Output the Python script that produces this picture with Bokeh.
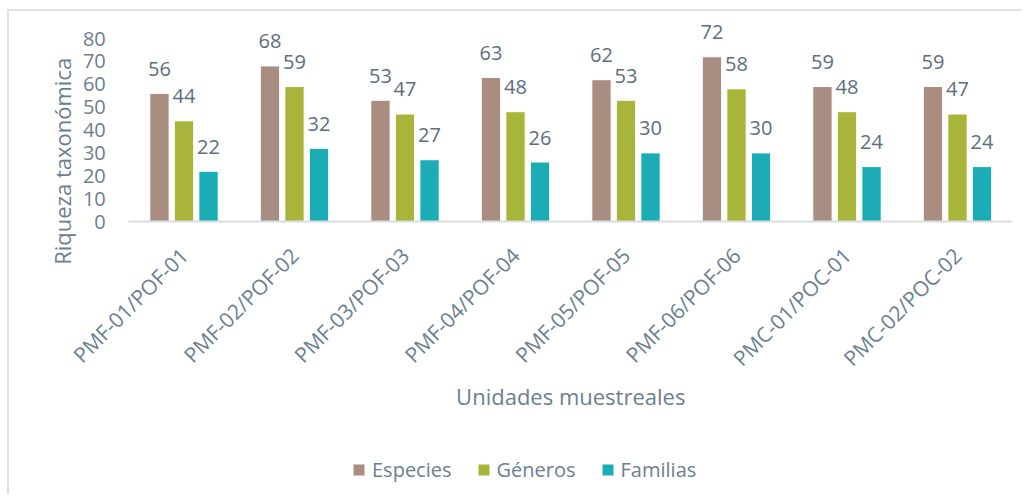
import math
from bokeh.plotting import figure
from bokeh.models import ColumnDataSource, Range1d, FixedTicker, Legend, LegendItem, Label
from bokeh.transform import dodge
from bokeh.core.properties import value
from bokeh.embed import file_html
from bokeh.resources import INLINE

categories = ["PMF-01/POF-01", "PMF-02/POF-02", "PMF-03/POF-03", "PMF-04/POF-04",
              "PMF-05/POF-05", "PMF-06/POF-06", "PMC-01/POC-01", "PMC-02/POC-02"]
especies = [56, 68, 53, 63, 62, 72, 59, 59]
generos = [44, 59, 47, 48, 53, 58, 48, 47]
familias = [22, 32, 27, 26, 30, 30, 24, 24]
series_names = ["Especies", "Géneros", "Familias"]
y_ticks = [0, 10, 20, 30, 40, 50, 60, 70, 80]

colors = ["#A98D81", "#A8B53A", "#1CACB5"]
FONT = "Open Sans"
TXT = "#5B6E7F"
AX = "#6A8091"

# layout (canvas pixels); the frame covers the whole canvas
W, H = 1015, 485
CAT_LEFT = 119.25       # canvas x where the first category starts
CAT_W = 110.5           # px per category
PX_PER_UNIT = 2.2875    # px per y unit
ZERO_Y = 210            # canvas y of value 0
x_start = -CAT_LEFT / CAT_W
x_end = (W - CAT_LEFT) / CAT_W
y_top = ZERO_Y / PX_PER_UNIT
y_bot = -(H - ZERO_Y) / PX_PER_UNIT

n = len(categories)
xpos = [i + 0.5 for i in range(n)]
src = ColumnDataSource(dict(x=xpos, cat=categories, esp=especies, gen=generos, fam=familias,
                            esp_l=[str(v) for v in especies],
                            gen_l=[str(v) for v in generos],
                            fam_l=[str(v) for v in familias]))

p = figure(x_range=Range1d(x_start, x_end), y_range=Range1d(y_bot, y_top),
           width=W, height=H, output_backend="svg", toolbar_location=None,
           min_border_left=0, min_border_right=0, min_border_top=0, min_border_bottom=0)
p.styles = {"border-left": "2px solid #DDE1E4", "border-top": "2px solid #DDE1E4",
            "margin-left": "7px", "margin-top": "9px"}

offs = [-0.222, 0.0, 0.222]
cols = ["esp", "gen", "fam"]
renderers = []
for c, o, col in zip(cols, offs, colors):
    r = p.vbar(x=dodge("x", o), top=c, bottom=0, width=0.175, source=src,
               fill_color=col, line_color="white", line_width=1)
    renderers.append(r)
    p.text(x=dodge("x", o), y=c, text=c + "_l", source=src,
           text_align="center", text_baseline="middle", y_offset=-24.5,
           text_font=value(FONT), text_font_size="20px", text_color=TXT)

p.grid.visible = False
p.outline_line_color = None
p.background_fill_color = "white"
p.border_fill_color = "white"

ya = p.yaxis[0]
ya.fixed_location = 0
ya.bounds = (0, 80)
ya.ticker = FixedTicker(ticks=y_ticks)
ya.axis_line_color = None
ya.major_tick_line_color = None
ya.minor_tick_line_color = None
ya.major_tick_out = 0
ya.major_label_standoff = 23
ya.major_label_text_font = FONT
ya.major_label_text_font_size = "20px"
ya.major_label_text_color = AX

xa = p.xaxis[0]
xa.fixed_location = 0
xa.bounds = (0, n)
xa.ticker = FixedTicker(ticks=xpos)
xa.major_label_overrides = {x: c for x, c in zip(xpos, categories)}
xa.axis_line_color = "#D9DDE0"
xa.axis_line_width = 2
xa.major_tick_line_color = None
xa.minor_tick_line_color = None
xa.major_tick_out = 0
xa.major_label_orientation = math.pi / 4
xa.major_label_standoff = 30
xa.major_label_text_font = FONT
xa.major_label_text_font_size = "21px"
xa.major_label_text_color = AX

p.add_layout(Label(x=0, y=26.3, x_offset=-67, text="Riqueza taxonómica", angle=math.pi / 2,
                   text_align="center", text_baseline="middle", text_font=FONT,
                   text_font_size="22px", text_color=AX))
p.add_layout(Label(x=n / 2, y=-76.1, text="Unidades muestreales",
                   text_align="center", text_baseline="middle", text_font=FONT,
                   text_font_size="22px", text_color=AX))

legend = Legend(items=[LegendItem(label=s, renderers=[r]) for s, r in zip(series_names, renderers)],
                orientation="horizontal", location=(342, 13),
                glyph_width=15, glyph_height=15, label_standoff=6, spacing=24,
                padding=0, margin=0, border_line_color=None, background_fill_alpha=0,
                label_text_font=FONT, label_text_font_size="20px", label_text_color=AX)
p.add_layout(legend, "center")

open("out.html", "w").write(file_html(p, INLINE))
